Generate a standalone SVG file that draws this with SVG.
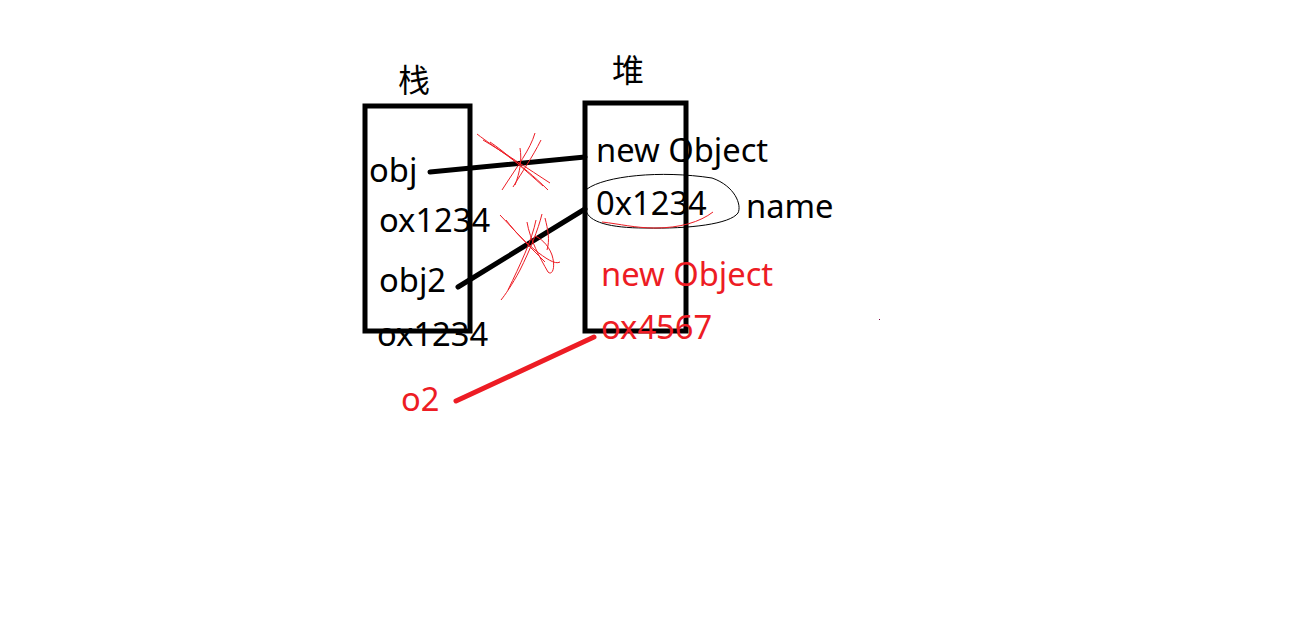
<svg xmlns="http://www.w3.org/2000/svg" width="1307" height="639" viewBox="0 0 1307 639">
<style>
.t{font-family:"Noto Sans","Liberation Sans","Noto Sans CJK SC",sans-serif;font-size:32.7px;fill:#000}
.cjk{font-family:"Noto Sans CJK SC","Noto Sans",sans-serif;font-size:32px;fill:#000;text-anchor:middle}
.red{fill:#ed1c24}
.box{fill:none;stroke:#000;stroke-width:5}
.conn{fill:none;stroke:#000;stroke-width:5;stroke-linecap:round}
.rconn{fill:none;stroke:#ed1c24;stroke-width:5;stroke-linecap:round}
.scr{fill:none;stroke:#ed1c24;stroke-width:1}
.loop{fill:none;stroke:#000;stroke-width:1}
</style>
<rect width="1307" height="639" fill="#fff"/>
<g id="stack">
<text class="cjk" x="414" y="92">栈</text>
<rect class="box" x="365" y="106" width="105" height="225"/>
<text class="t" x="369" y="182">obj</text>
<text class="t" x="379" y="232">ox1234</text>
<text class="t" x="379" y="292">obj2</text>
<text class="t" x="377" y="346">ox1234</text>
</g>
<g id="heap">
<text class="cjk" x="628" y="82">堆</text>
<rect class="box" x="585" y="103" width="101" height="228"/>
<text class="t" x="596" y="162">new Object</text>
<text class="t" x="596" y="215">0x1234</text>
<text class="t" x="746" y="218">name</text>
<path class="loop" d="M587,189 C605,176 660,170 712,178 C735,186 742,205 738,213 C730,224 690,229 645,228 C610,228 588,222 586,210"/>
<path class="scr" d="M602,222 C620,224 635,228 655,228 C680,228 700,222 713,212"/>
<text class="t red" x="601" y="286">new Object</text>
<text class="t red" x="601" y="339">ox4567</text>
</g>
<g id="o2">
<text class="t red" x="401" y="411">o2</text>
</g>
<g id="connectors">
<line class="conn" x1="430" y1="172" x2="585" y2="157"/>
<line class="conn" x1="458" y1="287" x2="585" y2="209"/>
<line class="rconn" x1="456" y1="401" x2="594" y2="337"/>
</g>
<g id="crosses">
<path class="scr" d="M477,134 C495,148 520,162 548,190"/>
<path class="scr" d="M490,142 C505,152 525,170 543,186"/>
<path class="scr" d="M483,140 C500,150 530,170 550,183"/>
<path class="scr" d="M535,133 C530,150 518,165 502,190"/>
<path class="scr" d="M541,140 C532,158 522,172 513,187"/>
<path class="scr" d="M520,148 C522,160 520,172 515,185"/>
<path class="scr" d="M500,215 C510,225 522,240 535,250 C545,258 555,265 560,262"/>
<path class="scr" d="M506,220 C515,232 528,245 545,262"/>
<path class="scr" d="M542,214 C538,230 530,250 520,270 C512,285 505,295 501,300"/>
<path class="scr" d="M536,220 C532,240 520,265 508,290"/>
<path class="scr" d="M527,222 C530,240 540,258 548,272 C552,276 556,268 552,255 C548,244 540,238 535,236"/>
<path class="scr" d="M545,218 C548,230 550,240 547,250"/>
</g>
<rect x="879" y="319" width="1" height="1" fill="#800040"/>
</svg>
